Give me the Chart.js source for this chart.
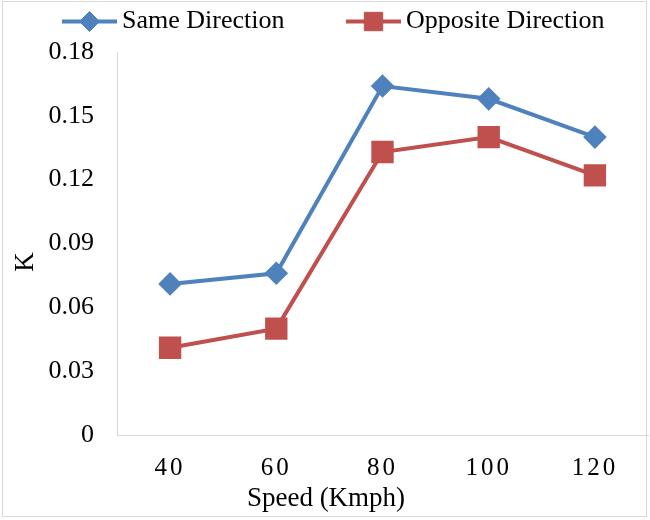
<!DOCTYPE html>
<html>
<head>
<meta charset="utf-8">
<script src="https://cdn.jsdelivr.net/npm/chart.js@4.4.0/dist/chart.umd.min.js"></script>
<style>
  html, body { margin: 0; padding: 0; background: #fff; }
  #wrap { width: 650px; height: 520px; }
</style>
</head>
<body>
<div id="wrap"><canvas id="kChart" width="650" height="520"></canvas></div>
<script>
// speed categories and K values per direction
var speeds = ['40', '60', '80', '100', '120'];
var sameDir = [0.071, 0.076, 0.164, 0.158, 0.14];
var oppositeDir = [0.041, 0.05, 0.133, 0.14, 0.122];
var yTicks = [0, 0.03, 0.06, 0.09, 0.12, 0.15, 0.18];

var FONT = '"Liberation Serif", "Times New Roman", serif';
var BLUE = '#4F81BD';
var RED = '#C0504D';
var GREY = '#D9D9D9';

// white background + light frame round the whole box
var frame = {
    id: 'frame',
    beforeDraw: function (chart) {
        var ctx = chart.ctx;
        ctx.save();
        ctx.fillStyle = '#fff';
        ctx.fillRect(0, 0, chart.width, chart.height);
        ctx.strokeStyle = GREY;
        ctx.lineWidth = 1;
        ctx.strokeRect(2.5, 1.5, 644, 515);
        ctx.restore();
    }
};

// x tick labels (ticks.z = 1) are drawn after the datasets, spaced out a bit
var spacedTicks = {
    id: 'spacedTicks',
    afterDatasetsDraw: function (chart) {
        chart.ctx.letterSpacing = '3px';
    },
    afterDraw: function (chart) {
        chart.ctx.letterSpacing = '0px';
    }
};

// legend with line + marker, plus axis titles
var lineLegend = {
    id: 'lineLegend',
    afterDraw: function (chart) {
        var ctx = chart.ctx;
        var items = [
            { x: 62, r: 10, ds: chart.data.datasets[0] },
            { x: 346, r: 13, ds: chart.data.datasets[1] }
        ];
        var y = 21.5;
        ctx.save();
        ctx.letterSpacing = '0px';
        items.forEach(function (it) {
            var ds = it.ds;
            ctx.strokeStyle = ds.borderColor;
            ctx.lineWidth = 4;
            ctx.beginPath();
            ctx.moveTo(it.x, y);
            ctx.lineTo(it.x + 55, y);
            ctx.stroke();
            ctx.fillStyle = ds.pointBackgroundColor;
            ctx.strokeStyle = ds.pointBackgroundColor;
            ctx.lineWidth = 1;
            Chart.helpers.drawPoint(ctx, {
                pointStyle: ds.pointStyle,
                radius: it.r,
                borderWidth: 1
            }, it.x + 27.5, y);
            ctx.fillStyle = '#000';
            ctx.font = '26px ' + FONT;
            ctx.textBaseline = 'middle';
            ctx.textAlign = 'left';
            ctx.fillText(ds.label, it.x + 60, y);
        });

        // axis titles
        ctx.font = '27px ' + FONT;
        ctx.textAlign = 'center';
        ctx.textBaseline = 'alphabetic';
        ctx.fillText('Speed (Kmph)', 326, 506);
        ctx.translate(33, 262);
        ctx.rotate(-Math.PI / 2);
        ctx.fillText('K', 0, 0);
        ctx.restore();
    }
};

new Chart(document.getElementById('kChart'), {
    type: 'line',
    data: {
        labels: speeds,
        datasets: [
            {
                label: 'Same Direction',
                data: sameDir,
                borderColor: BLUE,
                backgroundColor: BLUE,
                pointBackgroundColor: BLUE,
                pointBorderColor: BLUE,
                pointStyle: 'rectRot',
                pointRadius: 9,
                pointHoverRadius: 9,
                borderWidth: 4,
                tension: 0
            },
            {
                label: 'Opposite Direction',
                data: oppositeDir,
                borderColor: RED,
                backgroundColor: RED,
                pointBackgroundColor: RED,
                pointBorderColor: RED,
                pointStyle: 'rect',
                pointRadius: 13,
                pointHoverRadius: 13,
                borderWidth: 4,
                tension: 0
            }
        ]
    },
    options: {
        responsive: false,
        animation: false,
        layout: { autoPadding: false, padding: { top: 52, right: 2, left: 0, bottom: 0 } },
        plugins: {
            legend: { display: false },
            tooltip: { enabled: false }
        },
        scales: {
            x: {
                offset: true,
                grid: { display: true, drawOnChartArea: false, drawTicks: false },
                border: { color: GREY, width: 1 },
                ticks: {
                    z: 1,
                    color: '#000',
                    padding: 18,
                    font: { family: FONT, size: 25 }
                },
                afterFit: function (scale) {
                    scale.height = 85;
                    scale.paddingLeft = 0;
                    scale.paddingRight = 0;
                }
            },
            y: {
                min: 0,
                max: 0.18,
                afterBuildTicks: function (scale) {
                    scale.ticks = yTicks.map(function (v) { return { value: v }; });
                },
                grid: { display: true, drawOnChartArea: false, drawTicks: false },
                border: { color: GREY, width: 1 },
                ticks: {
                    color: '#000',
                    padding: 23,
                    font: { family: FONT, size: 26 },
                    callback: function (v) { return String(v); }
                },
                afterFit: function (scale) { scale.width = 117; }
            }
        }
    },
    plugins: [frame, spacedTicks, lineLegend]
});
</script>
</body>
</html>
